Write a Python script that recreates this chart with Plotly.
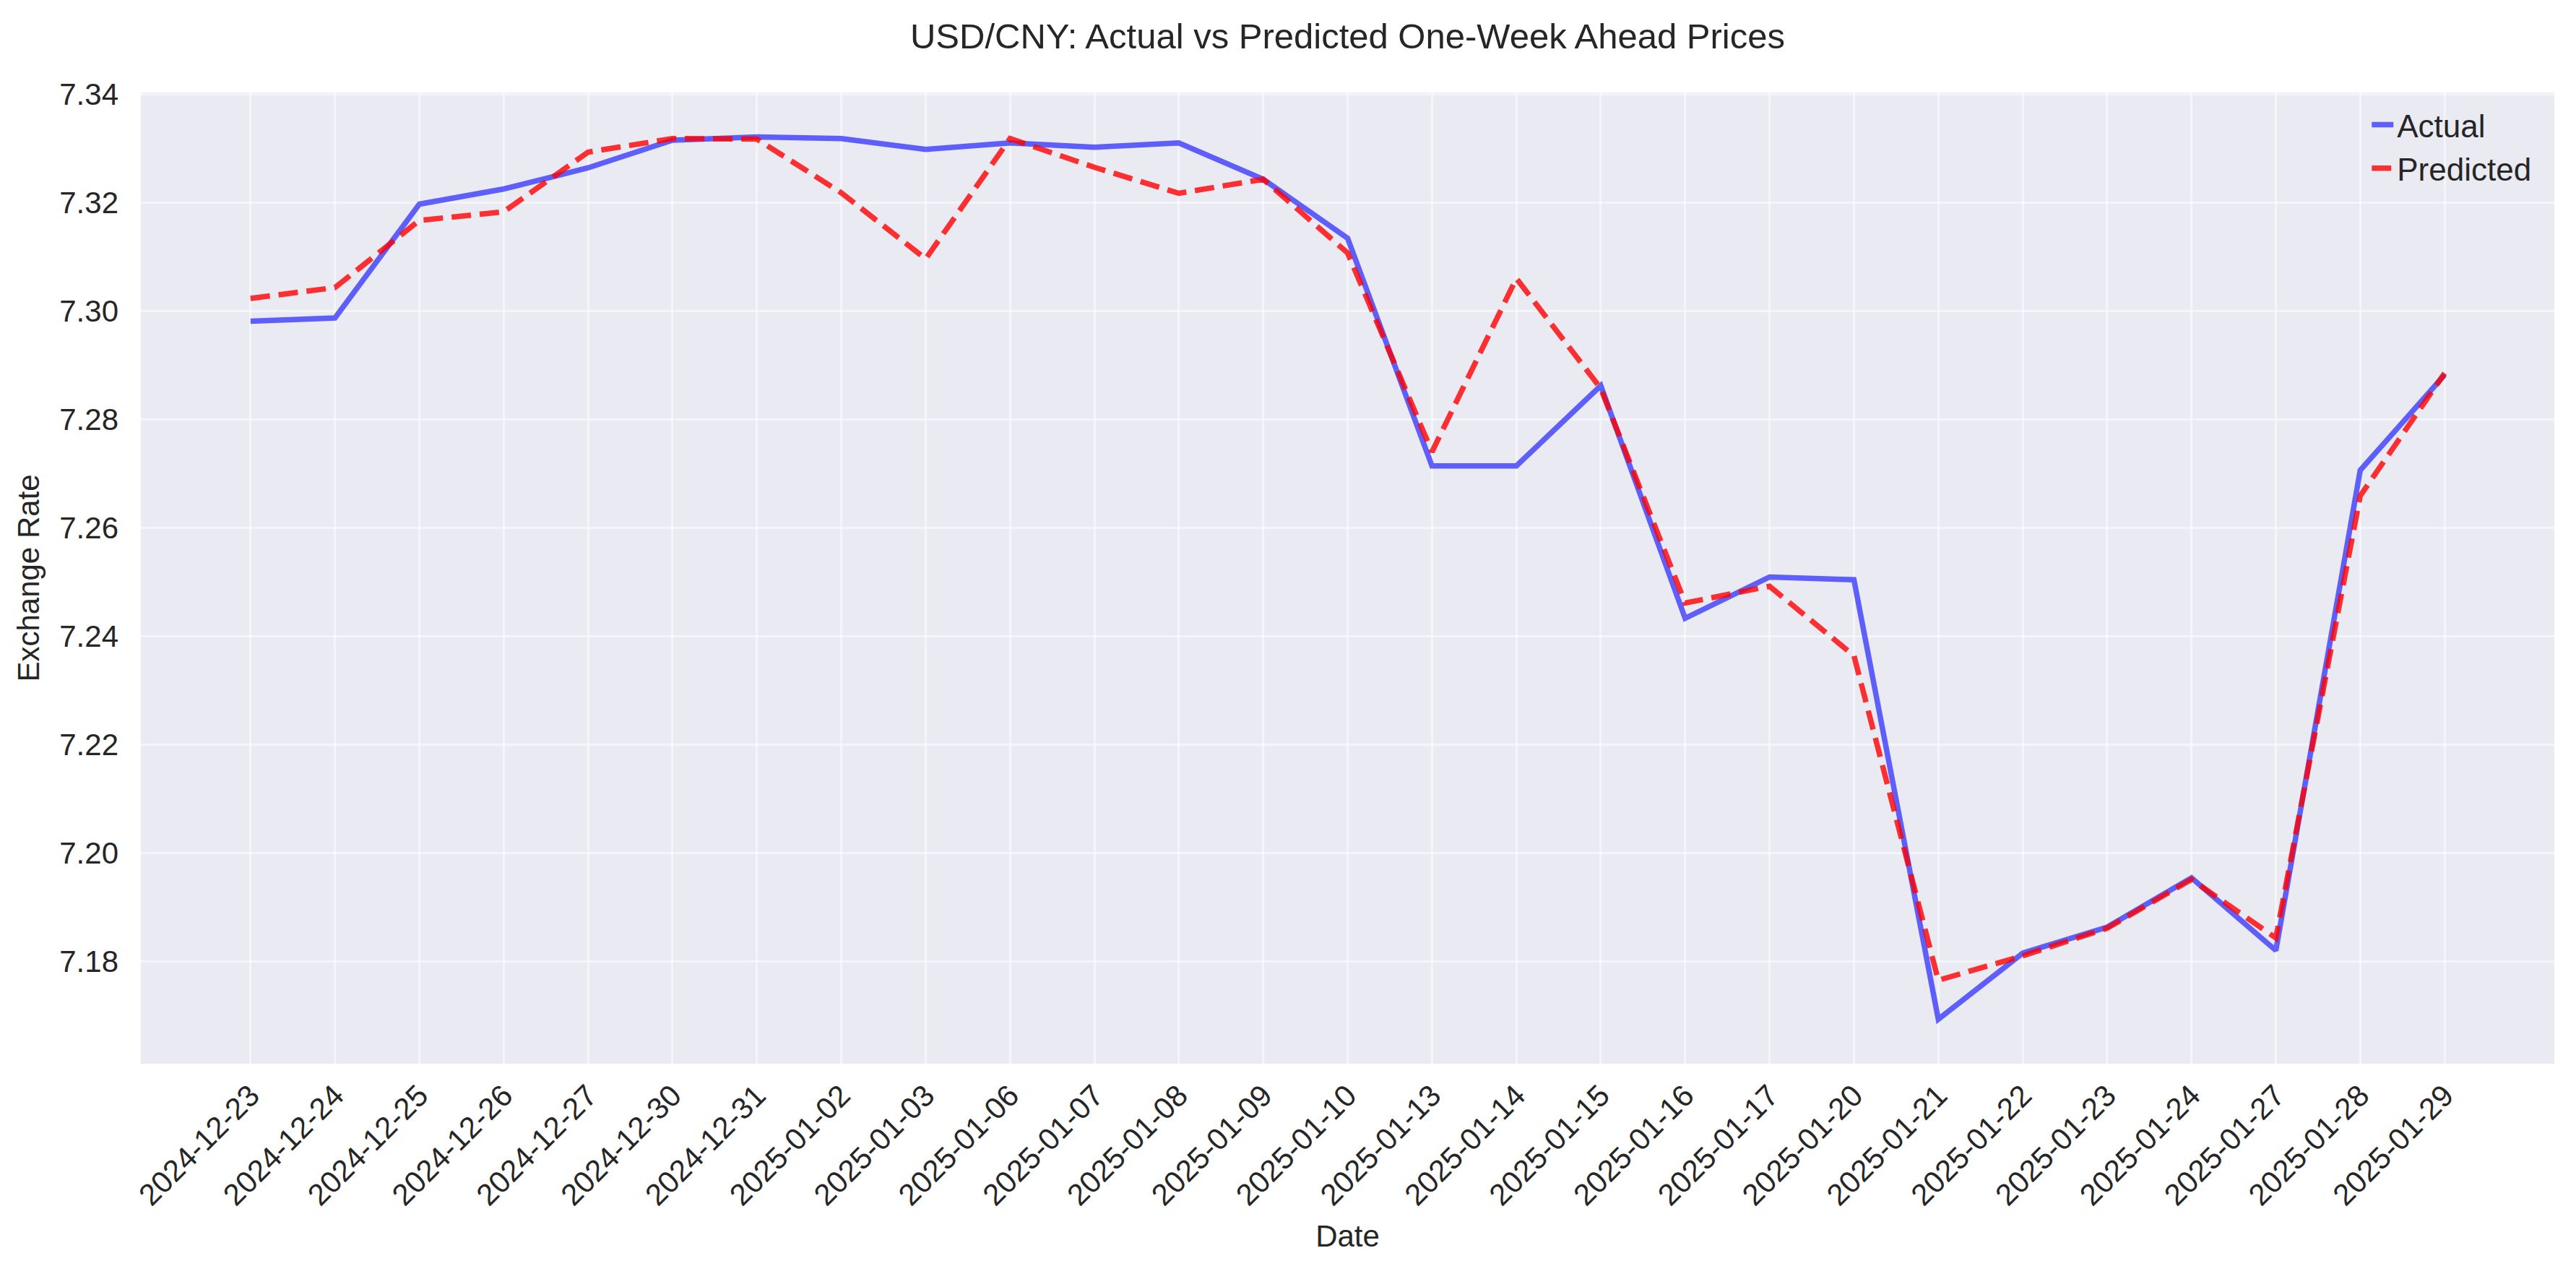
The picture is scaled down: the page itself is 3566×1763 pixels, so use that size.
import plotly.graph_objects as go

dates = ['2024-12-23', '2024-12-24', '2024-12-25', '2024-12-26', '2024-12-27',
         '2024-12-30', '2024-12-31', '2025-01-02', '2025-01-03', '2025-01-06',
         '2025-01-07', '2025-01-08', '2025-01-09', '2025-01-10', '2025-01-13',
         '2025-01-14', '2025-01-15', '2025-01-16', '2025-01-17', '2025-01-20',
         '2025-01-21', '2025-01-22', '2025-01-23', '2025-01-24', '2025-01-27',
         '2025-01-28', '2025-01-29']

actual = [7.2981, 7.2987, 7.3197, 7.3225, 7.3264, 7.3315, 7.3321, 7.3318, 7.3298,
          7.3310, 7.3302, 7.3310, 7.3243, 7.3134, 7.2714, 7.2714, 7.2862, 7.2433,
          7.2509, 7.2504, 7.1693, 7.1815, 7.1863, 7.1954, 7.1820, 7.2706, 7.2882]

predicted = [7.3023, 7.3043, 7.3167, 7.3183, 7.3293, 7.3318, 7.3317, 7.3218, 7.3096,
             7.3318, 7.3265, 7.3217, 7.3243, 7.3107, 7.2740, 7.3060, 7.2857, 7.2461,
             7.2492, 7.2364, 7.1765, 7.1810, 7.1861, 7.1951, 7.1843, 7.2659, 7.2885]

yticks = [7.18, 7.20, 7.22, 7.24, 7.26, 7.28, 7.30, 7.32, 7.34]

FONT = "Liberation Sans, Arial, sans-serif"
TXT = "#262626"

# page body has an 8px margin, so the figure is a bit smaller than the window
W, H = 3550, 1747
L, R, T, B = 187, 22, 120, 283

fig = go.Figure()
fig.add_trace(go.Scatter(x=dates, y=actual, mode='lines', name='Actual',
                         line=dict(color='rgba(0,0,255,0.6)', width=7.5)))
fig.add_trace(go.Scatter(x=dates, y=predicted, mode='lines', name='Predicted',
                         line=dict(color='rgba(255,0,0,0.8)', width=7.5, dash='27px,12px')))

fig.update_layout(
    width=W, height=H,
    margin=dict(l=L, r=R, t=T, b=B, autoexpand=False),
    paper_bgcolor='white', plot_bgcolor='#EAEAF2',
    font=dict(family=FONT, size=42, color=TXT),
    title=dict(text='USD/CNY: Actual vs Predicted One-Week Ahead Prices',
               x=(L + W - R) / 2 / W, xanchor='center', y=1 - 42 / H, yanchor='middle',
               font=dict(size=49, color=TXT)),
    legend=dict(x=0.992, xanchor='right', y=0.993, yanchor='top',
                bgcolor='rgba(0,0,0,0)', font=dict(size=44, color=TXT)),
    showlegend=True,
)
fig.update_xaxes(type='category', range=[-1.3, 27.3], tickangle=-45, automargin=False,
                 showgrid=True, gridcolor='rgba(255,255,255,0.5)', gridwidth=3,
                 zeroline=False, showline=False, ticks='', ticklabelstandoff=10,
                 tickfont=dict(size=42, color=TXT),
                 title=dict(text='Date', standoff=19, font=dict(size=42, color=TXT)))
fig.update_yaxes(range=[7.1611, 7.3403], tickvals=yticks, tickformat='.2f', automargin=False,
                 showgrid=True, gridcolor='rgba(255,255,255,0.5)', gridwidth=3,
                 zeroline=False, showline=False, ticks='', ticklabelstandoff=30,
                 tickfont=dict(size=42, color=TXT),
                 title=dict(text='Exchange Rate', standoff=14, font=dict(size=42, color=TXT)))

fig.write_html("out.html")
